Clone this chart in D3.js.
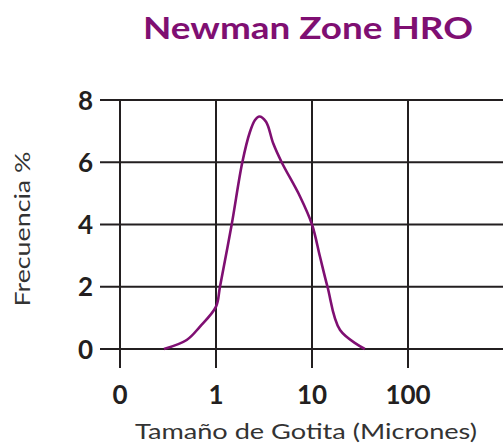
<!DOCTYPE html>
<html>
<head>
<meta charset="utf-8">
<script src="https://cdn.jsdelivr.net/npm/d3@7"></script>
<style>
  body { margin: 0; background: #fff; }
  svg { display: block; }
</style>
</head>
<body>
<svg id="chart" width="503" height="445"></svg>
<script>
// droplet size (microns) vs frequency (%)
var sizes = [0.287, 0.495, 0.681, 1.0, 1.10, 1.457, 1.88, 2.26, 2.55, 2.83, 3.32, 3.95, 4.83, 7.5, 10, 12.1, 14.5, 19.6, 35.5]
var freq  = [0,     0.29,  0.72,  1.36, 2.0, 4.0,   6.0,  6.98, 7.36, 7.47, 7.3,  6.6,  6.0,  4.9, 4.0, 2.97, 2.0,  0.61, 0]

var xTicks = [0.1, 1, 10, 100]
var xTickLabels = ["0", "1", "10", "100"]
var yTicks = [0, 2, 4, 6, 8]

var svg = d3.select("#chart")

var x = d3.scaleLog().domain([0.1, 1000]).range([120, 504])
var y = d3.scaleLinear().domain([0, 8]).range([349, 100])

var gridColour = "#231f20"
var purple = "#7f0f72"
var font = "Lato, sans-serif"

// horizontal grid
svg.selectAll(".hgrid")
    .data(yTicks)
    .enter()
    .append("line")
    .attr("class", "hgrid")
    .attr("x1", 100)
    .attr("x2", 503)
    .attr("y1", function(d) { return y(d) })
    .attr("y2", function(d) { return y(d) })
    .attr("stroke", gridColour)
    .attr("stroke-width", 2)

// vertical grid, runs a little below the 0 line as a tick
svg.selectAll(".vgrid")
    .data(xTicks)
    .enter()
    .append("line")
    .attr("class", "vgrid")
    .attr("x1", function(d) { return x(d) })
    .attr("x2", function(d) { return x(d) })
    .attr("y1", y(8))
    .attr("y2", y(0) + 19)
    .attr("stroke", gridColour)
    .attr("stroke-width", 2)

// y tick labels
svg.selectAll(".ylab")
    .data(yTicks)
    .enter()
    .append("text")
    .attr("class", "ylab")
    .attr("x", 93)
    .attr("y", function(d) { return y(d) + 9.5 })
    .attr("text-anchor", "end")
    .style("font-family", font)
    .style("font-weight", "bold")
    .style("font-size", "26px")
    .style("fill", "#231f20")
    .text(function(d) { return d })

// x tick labels
svg.selectAll(".xlab")
    .data(xTicks)
    .enter()
    .append("text")
    .attr("class", "xlab")
    .attr("x", function(d) { return x(d) })
    .attr("y", 403.5)
    .attr("text-anchor", "middle")
    .style("font-family", font)
    .style("font-weight", "bold")
    .style("font-size", "26px")
    .style("fill", "#231f20")
    .text(function(d, i) { return xTickLabels[i] })

// the curve
var line = d3.line()
    .x(function(d) { return x(d[0]) })
    .y(function(d) { return y(d[1]) })
    .curve(d3.curveCatmullRom.alpha(0.5))

svg.append("path")
    .datum(d3.zip(sizes, freq))
    .attr("d", line)
    .attr("fill", "none")
    .attr("stroke", purple)
    .attr("stroke-width", 2.6)

// titles
svg.append("text")
    .attr("x", 143)
    .attr("y", 38.5)
    .attr("textLength", 330)
    .attr("lengthAdjust", "spacingAndGlyphs")
    .style("font-family", font)
    .style("font-weight", "bold")
    .style("font-size", "31px")
    .style("fill", purple)
    .text("Newman Zone HRO")

svg.append("text")
    .attr("x", 135)
    .attr("y", 438.5)
    .attr("textLength", 342)
    .attr("lengthAdjust", "spacingAndGlyphs")
    .style("font-family", font)
    .style("font-size", "21px")
    .style("fill", "#333")
    .text("Tamaño de Gotita (Micrones)")

svg.append("text")
    .attr("transform", "translate(29.5,306.5) rotate(-90)")
    .attr("textLength", 155)
    .attr("lengthAdjust", "spacingAndGlyphs")
    .style("font-family", font)
    .style("font-size", "21px")
    .style("fill", "#333")
    .text("Frecuencia %")
</script>
</body>
</html>
